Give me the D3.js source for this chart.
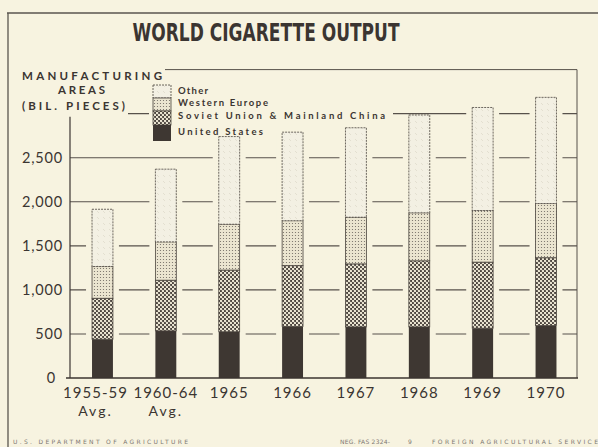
<!DOCTYPE html>
<html><head><meta charset="utf-8">
<script src="https://cdn.jsdelivr.net/npm/d3@7"></script>
<style>
html,body{margin:0;padding:0;background:#f7f3e0;}
svg{display:block;}
</style></head>
<body><svg id="c" width="598" height="447"></svg>
<script>
const categories = ["1955-59","1960-64","1965","1966","1967","1968","1969","1970"];
const subLabels  = ["Avg.","Avg.","","","","","",""];
const unitedStates  = [440, 535, 525, 585, 580, 580, 565, 595];
const sovietChina   = [465, 575, 700, 690, 715, 750, 750, 770];
const westernEurope = [360, 435, 520, 510, 530, 545, 585, 615];
const otherAreas    = [650, 825, 995, 1005, 1015, 1110, 1170, 1205];
const seriesNames = ["United States","Soviet Union & Mainland China","Western Europe","Other"];
const yTickValues = [0, 500, 1000, 1500, 2000, 2500];
const gridValues  = [500, 1000, 1500, 2000, 2500, 3000];
const yTickLabels = ["0","500","1,000","1,500","2,000","2,500"];

const BG = "#f7f3e0", INK = "#3b3531", GRID = "#57514b";
const svg = d3.select("#c");
const W = 598, H = 447;
svg.append("rect").attr("width", W).attr("height", H).attr("fill", BG);

const defs = svg.append("defs");
// Soviet/China pattern: dark with light dots
const p1 = defs.append("pattern").attr("id","pSU").attr("patternUnits","userSpaceOnUse").attr("width",4).attr("height",4);
p1.append("rect").attr("width",4).attr("height",4).attr("fill","#4a433d");
p1.append("circle").attr("cx",1).attr("cy",1).attr("r",1.25).attr("fill","#ece6d3");
p1.append("circle").attr("cx",3).attr("cy",3).attr("r",1.25).attr("fill","#ece6d3");
// Western Europe: light with small dark dots
const p2 = defs.append("pattern").attr("id","pWE").attr("patternUnits","userSpaceOnUse").attr("width",3).attr("height",3);
p2.append("rect").attr("width",3).attr("height",3).attr("fill","#ebe5d0");
p2.append("circle").attr("cx",1.5).attr("cy",1.5).attr("r",0.6).attr("fill","#6f6962");
// Other: pale
const p3 = defs.append("pattern").attr("id","pOT").attr("patternUnits","userSpaceOnUse").attr("width",6).attr("height",6);
p3.append("rect").attr("width",6).attr("height",6).attr("fill","#f3f0e3");
p3.append("line").attr("x1",1).attr("y1",1).attr("x2",3).attr("y2",3).attr("stroke","#d8d3c3").attr("stroke-width",0.6);

const fills = {"United States":"#3e3732","Soviet Union & Mainland China":"url(#pSU)","Western Europe":"url(#pWE)","Other":"url(#pOT)"};

// outer frame
svg.append("line").attr("x1",7).attr("x2",598).attr("y1",13).attr("y2",13).attr("stroke","#5a554f").attr("stroke-width",1.3);
svg.append("line").attr("x1",8).attr("x2",8).attr("y1",13).attr("y2",447).attr("stroke","#5a554f").attr("stroke-width",1.3);

// title
svg.append("text").attr("x",266).attr("y",41).attr("text-anchor","middle")
  .attr("font-family","'DejaVu Sans Condensed','Liberation Sans Narrow',sans-serif").attr("font-weight","bold")
  .attr("font-size",24).attr("fill",INK).attr("textLength",267).attr("lengthAdjust","spacingAndGlyphs")
  .text("WORLD CIGARETTE OUTPUT");

const x = d3.scaleBand().domain(categories).range([70.8, 577.7]).paddingInner(0.67).paddingOuter(0.335);
const y = d3.scaleLinear().domain([0, 3500]).range([378, 69.6]);

// plot frame (top & right)
svg.append("line").attr("x1",165).attr("x2",577).attr("y1",y(3500)).attr("y2",y(3500)).attr("stroke",GRID).attr("stroke-width",1);
svg.append("line").attr("x1",577).attr("x2",577).attr("y1",y(3500)).attr("y2",y(0)).attr("stroke",GRID).attr("stroke-width",1);

// grid lines
svg.append("g").selectAll("line").data(gridValues).join("line")
  .attr("x1",70).attr("x2",577).attr("y1",d=>y(d)).attr("y2",d=>y(d))
  .attr("stroke",GRID).attr("stroke-width",1.1);

// y title background + legend background
svg.append("rect").attr("x",14).attr("y",64).attr("width",114).attr("height",51).attr("fill",BG);
svg.append("rect").attr("x",149).attr("y",78).attr("width",244).attr("height",60).attr("fill",BG);

// stack
const rows = categories.map((c,i)=>({cat:c,"United States":unitedStates[i],"Soviet Union & Mainland China":sovietChina[i],"Western Europe":westernEurope[i],"Other":otherAreas[i]}));
const stack = d3.stack().keys(seriesNames)(rows);
const totals = rows.map(r=>seriesNames.reduce((s,k)=>s+r[k],0));

// gaps around bars
svg.append("g").selectAll("rect").data(rows).join("rect")
  .attr("x",d=>x(d.cat)-6).attr("width",x.bandwidth()+12)
  .attr("y",(d,i)=>y(totals[i])).attr("height",(d,i)=>y(0)-y(totals[i])).attr("fill",BG);

// bars
const g = svg.append("g");
stack.forEach(s=>{
  g.append("g").selectAll("rect").data(s).join("rect")
    .attr("x",d=>x(d.data.cat)).attr("width",x.bandwidth())
    .attr("y",d=>y(d[1])).attr("height",d=>y(d[0])-y(d[1]))
    .attr("fill",fills[s.key])
    .attr("stroke", s.key==="United States" ? "none" : "#4a443e")
    .attr("stroke-width",0.8)
    .attr("stroke-dasharray", s.key==="Other" ? "2,1" : null);
});

// axes
svg.append("line").attr("x1",70).attr("x2",70).attr("y1",y(3000)+3).attr("y2",y(0)).attr("stroke",INK).attr("stroke-width",1.2);
svg.append("line").attr("x1",66).attr("x2",578).attr("y1",y(0)).attr("y2",y(0)).attr("stroke",INK).attr("stroke-width",1.3);

// y tick labels
svg.append("g").selectAll("text").data(yTickValues).join("text")
  .attr("x",d=>d===0?56:63).attr("y",d=>y(d)+5).attr("text-anchor","end")
  .attr("font-family","Lato, 'DejaVu Sans', sans-serif").attr("font-size",14.5).attr("letter-spacing",0.8)
  .attr("fill",INK).text((d,i)=>yTickLabels[i]);

// y title
const yt = [["MANUFACTURING",22,80,140],["AREAS",58,94,47],["(BIL. PIECES)",22,110,103]];
svg.append("g").selectAll("text").data(yt).join("text")
  .attr("x",d=>d[1]).attr("y",d=>d[2]).attr("textLength",d=>d[3]).attr("lengthAdjust","spacing")
  .attr("font-family","Lato, 'DejaVu Sans', sans-serif").attr("font-weight","bold").attr("font-size",11.5)
  .attr("fill",INK).text(d=>d[0]);

// x labels
svg.append("g").selectAll("text").data(categories).join("text")
  .attr("x",(d,i)=>x(d)+x.bandwidth()/2 - (i===0?7:0)).attr("y",398).attr("text-anchor","middle")
  .attr("font-family","Lato, 'DejaVu Sans', sans-serif").attr("font-size",15).attr("letter-spacing",1)
  .attr("fill",INK).text(d=>d);
svg.append("g").selectAll("text").data(categories).join("text")
  .attr("x",(d,i)=>x(d)+x.bandwidth()/2 - (i===0?7:0)).attr("y",416).attr("text-anchor","middle")
  .attr("font-family","Lato, 'DejaVu Sans', sans-serif").attr("font-size",14).attr("letter-spacing",2)
  .attr("fill",INK).text((d,i)=>subLabels[i]);

// legend swatch (mini stacked bar)
const legendOrder = ["Other","Western Europe","Soviet Union & Mainland China","United States"];
const swY = [85, 98, 111, 125, 141];
const lg = svg.append("g");
legendOrder.forEach((k,i)=>{
  lg.append("rect").attr("x",153).attr("y",swY[i]).attr("width",18).attr("height",swY[i+1]-swY[i])
    .attr("fill",fills[k]).attr("stroke",k==="United States"?"none":"#4a443e").attr("stroke-width",0.8)
    .attr("stroke-dasharray",k==="Other"?"2,1":null);
});
const lgText = [["Other",94,30],["Western Europe",106,90],["Soviet Union & Mainland China",119,207],["United States",135,85]];
lg.selectAll("text").data(lgText).join("text")
  .attr("x",178).attr("y",d=>d[1]).attr("textLength",d=>d[2]).attr("lengthAdjust","spacing")
  .attr("font-family","Lato, 'DejaVu Sans', sans-serif").attr("font-weight","bold").attr("font-size",9.5)
  .attr("fill",INK).text(d=>d[0]);

// footer
const foot = [["U.S. DEPARTMENT OF AGRICULTURE",13,175],["NEG. FAS 2324-",340,50],["9",408,4],["FOREIGN AGRICULTURAL SERVICE",432,166]];
svg.append("g").selectAll("text").data(foot).join("text")
  .attr("x",d=>d[1]).attr("y",444).attr("textLength",d=>d[2]).attr("lengthAdjust","spacing")
  .attr("font-family","'DejaVu Sans', sans-serif").attr("font-size",6).attr("fill","#7d7872").text(d=>d[0]);
</script></body></html>
